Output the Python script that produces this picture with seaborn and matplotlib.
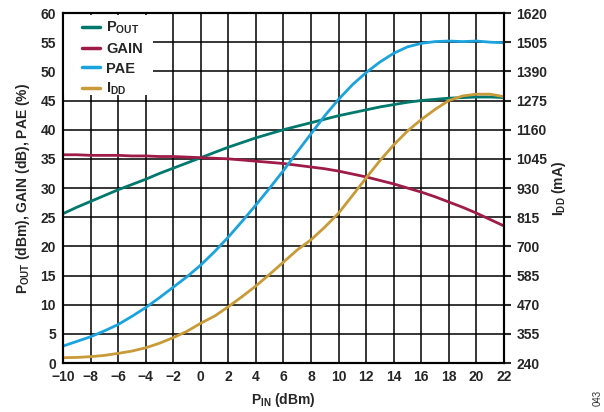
import numpy as np
import pandas as pd
import seaborn as sns
import matplotlib
matplotlib.use("Agg")
import matplotlib.pyplot as plt
from matplotlib.patches import Rectangle

# Giriş gücü (dBm)
p_in = list(range(-10, 23))

# Sol eksen serileri
p_out = [25.6, 26.7, 27.7, 28.7, 29.7, 30.6, 31.5, 32.5, 33.4, 34.3, 35.2,
         36.1, 37.0, 37.8, 38.6, 39.3, 40.0, 40.6, 41.2, 41.8, 42.4, 42.9,
         43.4, 43.9, 44.3, 44.7, 45.0, 45.2, 45.4, 45.5, 45.6, 45.6, 45.5]
gain = [35.7, 35.7, 35.6, 35.6, 35.6, 35.5, 35.5, 35.4, 35.4, 35.3, 35.2,
        35.1, 35.0, 34.8, 34.6, 34.4, 34.2, 33.9, 33.6, 33.3, 32.9, 32.4,
        31.9, 31.3, 30.7, 30.0, 29.3, 28.5, 27.6, 26.7, 25.7, 24.6, 23.5]
pae = [2.9, 3.7, 4.5, 5.5, 6.6, 8.0, 9.5, 11.2, 13.0, 14.8, 16.8,
       19.1, 21.6, 24.3, 27.1, 30.0, 33.0, 36.2, 39.3, 42.4, 45.2, 47.7,
       49.8, 51.6, 53.1, 54.2, 54.8, 55.1, 55.2, 55.1, 55.2, 55.0, 54.9]

# Sağ eksen: akım (mA)
idd = [261, 262, 265, 270, 278, 287, 300, 318, 340, 365, 397,
       425, 462, 502, 544, 590, 638, 686, 726, 776, 831, 900,
       970, 1038, 1100, 1155, 1200, 1240, 1275, 1293, 1300, 1300, 1290]

x_ticks = list(range(-10, 23, 2))
left_ticks = list(range(0, 61, 5))
right_ticks = [240, 355, 470, 585, 700, 815, 930, 1045, 1160, 1275, 1390, 1505, 1620]

renkler = {"pout": "#00786C", "gain": "#A01C48", "pae": "#1BA3DD", "idd": "#C89A38"}

sns.set_style("white")
plt.rcParams["font.family"] = ["Liberation Sans", "DejaVu Sans"]
plt.rcParams["font.weight"] = "bold"
plt.rcParams["mathtext.default"] = "regular"

veri = pd.DataFrame({"PIN": p_in, "POUT": p_out, "GAIN": gain, "PAE": pae, "IDD": idd})

fig = plt.figure(figsize=(6.04, 4.12), dpi=100)
ax = fig.add_axes([0.1043, 0.1189, 0.7301, 0.8495])
ax2 = ax.twinx()

lw = 2.0
sns.lineplot(data=veri, x="PIN", y="POUT", ax=ax, color=renkler["pout"], lw=lw,
             label=r"P$_{OUT}$", legend=False)
sns.lineplot(data=veri, x="PIN", y="GAIN", ax=ax, color=renkler["gain"], lw=lw,
             label="GAIN", legend=False)
sns.lineplot(data=veri, x="PIN", y="PAE", ax=ax, color=renkler["pae"], lw=lw,
             label="PAE", legend=False)
sns.lineplot(data=veri, x="PIN", y="IDD", ax=ax2, color=renkler["idd"], lw=lw,
             label=r"I$_{DD}$", legend=False)

ax.set_xlim(-10, 22)
ax.set_ylim(0, 60)
ax2.set_ylim(240, 1620)
ax.set_xticks(x_ticks)
ax.set_yticks(left_ticks)
ax2.set_yticks(right_ticks)

ax.grid(True, color="black", lw=1.1)
ax2.grid(False)
for a in (ax, ax2):
    for sp in a.spines.values():
        sp.set_color("black")
        sp.set_linewidth(1.5)

ax.tick_params(axis="both", length=0, labelsize=10, pad=5)
ax2.tick_params(axis="y", length=5, width=1.5, direction="out", labelsize=10, pad=4)
for lab in ax.get_xticklabels() + ax.get_yticklabels() + ax2.get_yticklabels():
    lab.set_fontweight("bold")

ax.set_xlabel(r"P$_{IN}$ (dBm)", fontsize=10, fontweight="bold", labelpad=5)
ax.set_ylabel(r"P$_{OUT}$ (dBm), GAIN (dB), PAE (%)", fontsize=10, fontweight="bold", labelpad=6)
ax2.set_ylabel(r"I$_{DD}$ (mA)", fontsize=10, fontweight="bold", labelpad=2)

# lejant arkası beyaz kutu (ızgarayı kapatır)
ax2.add_patch(Rectangle((0.0, 0.766), 0.204, 0.228, transform=ax2.transAxes,
                        facecolor="white", edgecolor="none", zorder=1))

h1, l1 = ax.get_legend_handles_labels()
h2, l2 = ax2.get_legend_handles_labels()
leg = ax2.legend(h1 + h2, l1 + l2, loc="upper left", bbox_to_anchor=(0.043, 0.98),
                 frameon=False, prop={"weight": "bold", "size": 10.5},
                 handlelength=1.25, handletextpad=0.4,
                 labelspacing=0.38, borderaxespad=0, borderpad=0)
for line in leg.get_lines():
    line.set_linewidth(2.5)

fig.text(0.99, 0.035, "043", rotation=90, fontsize=7, fontweight="normal",
         color="#333333", ha="center", va="center")

fig.savefig("out.png", dpi=100)
